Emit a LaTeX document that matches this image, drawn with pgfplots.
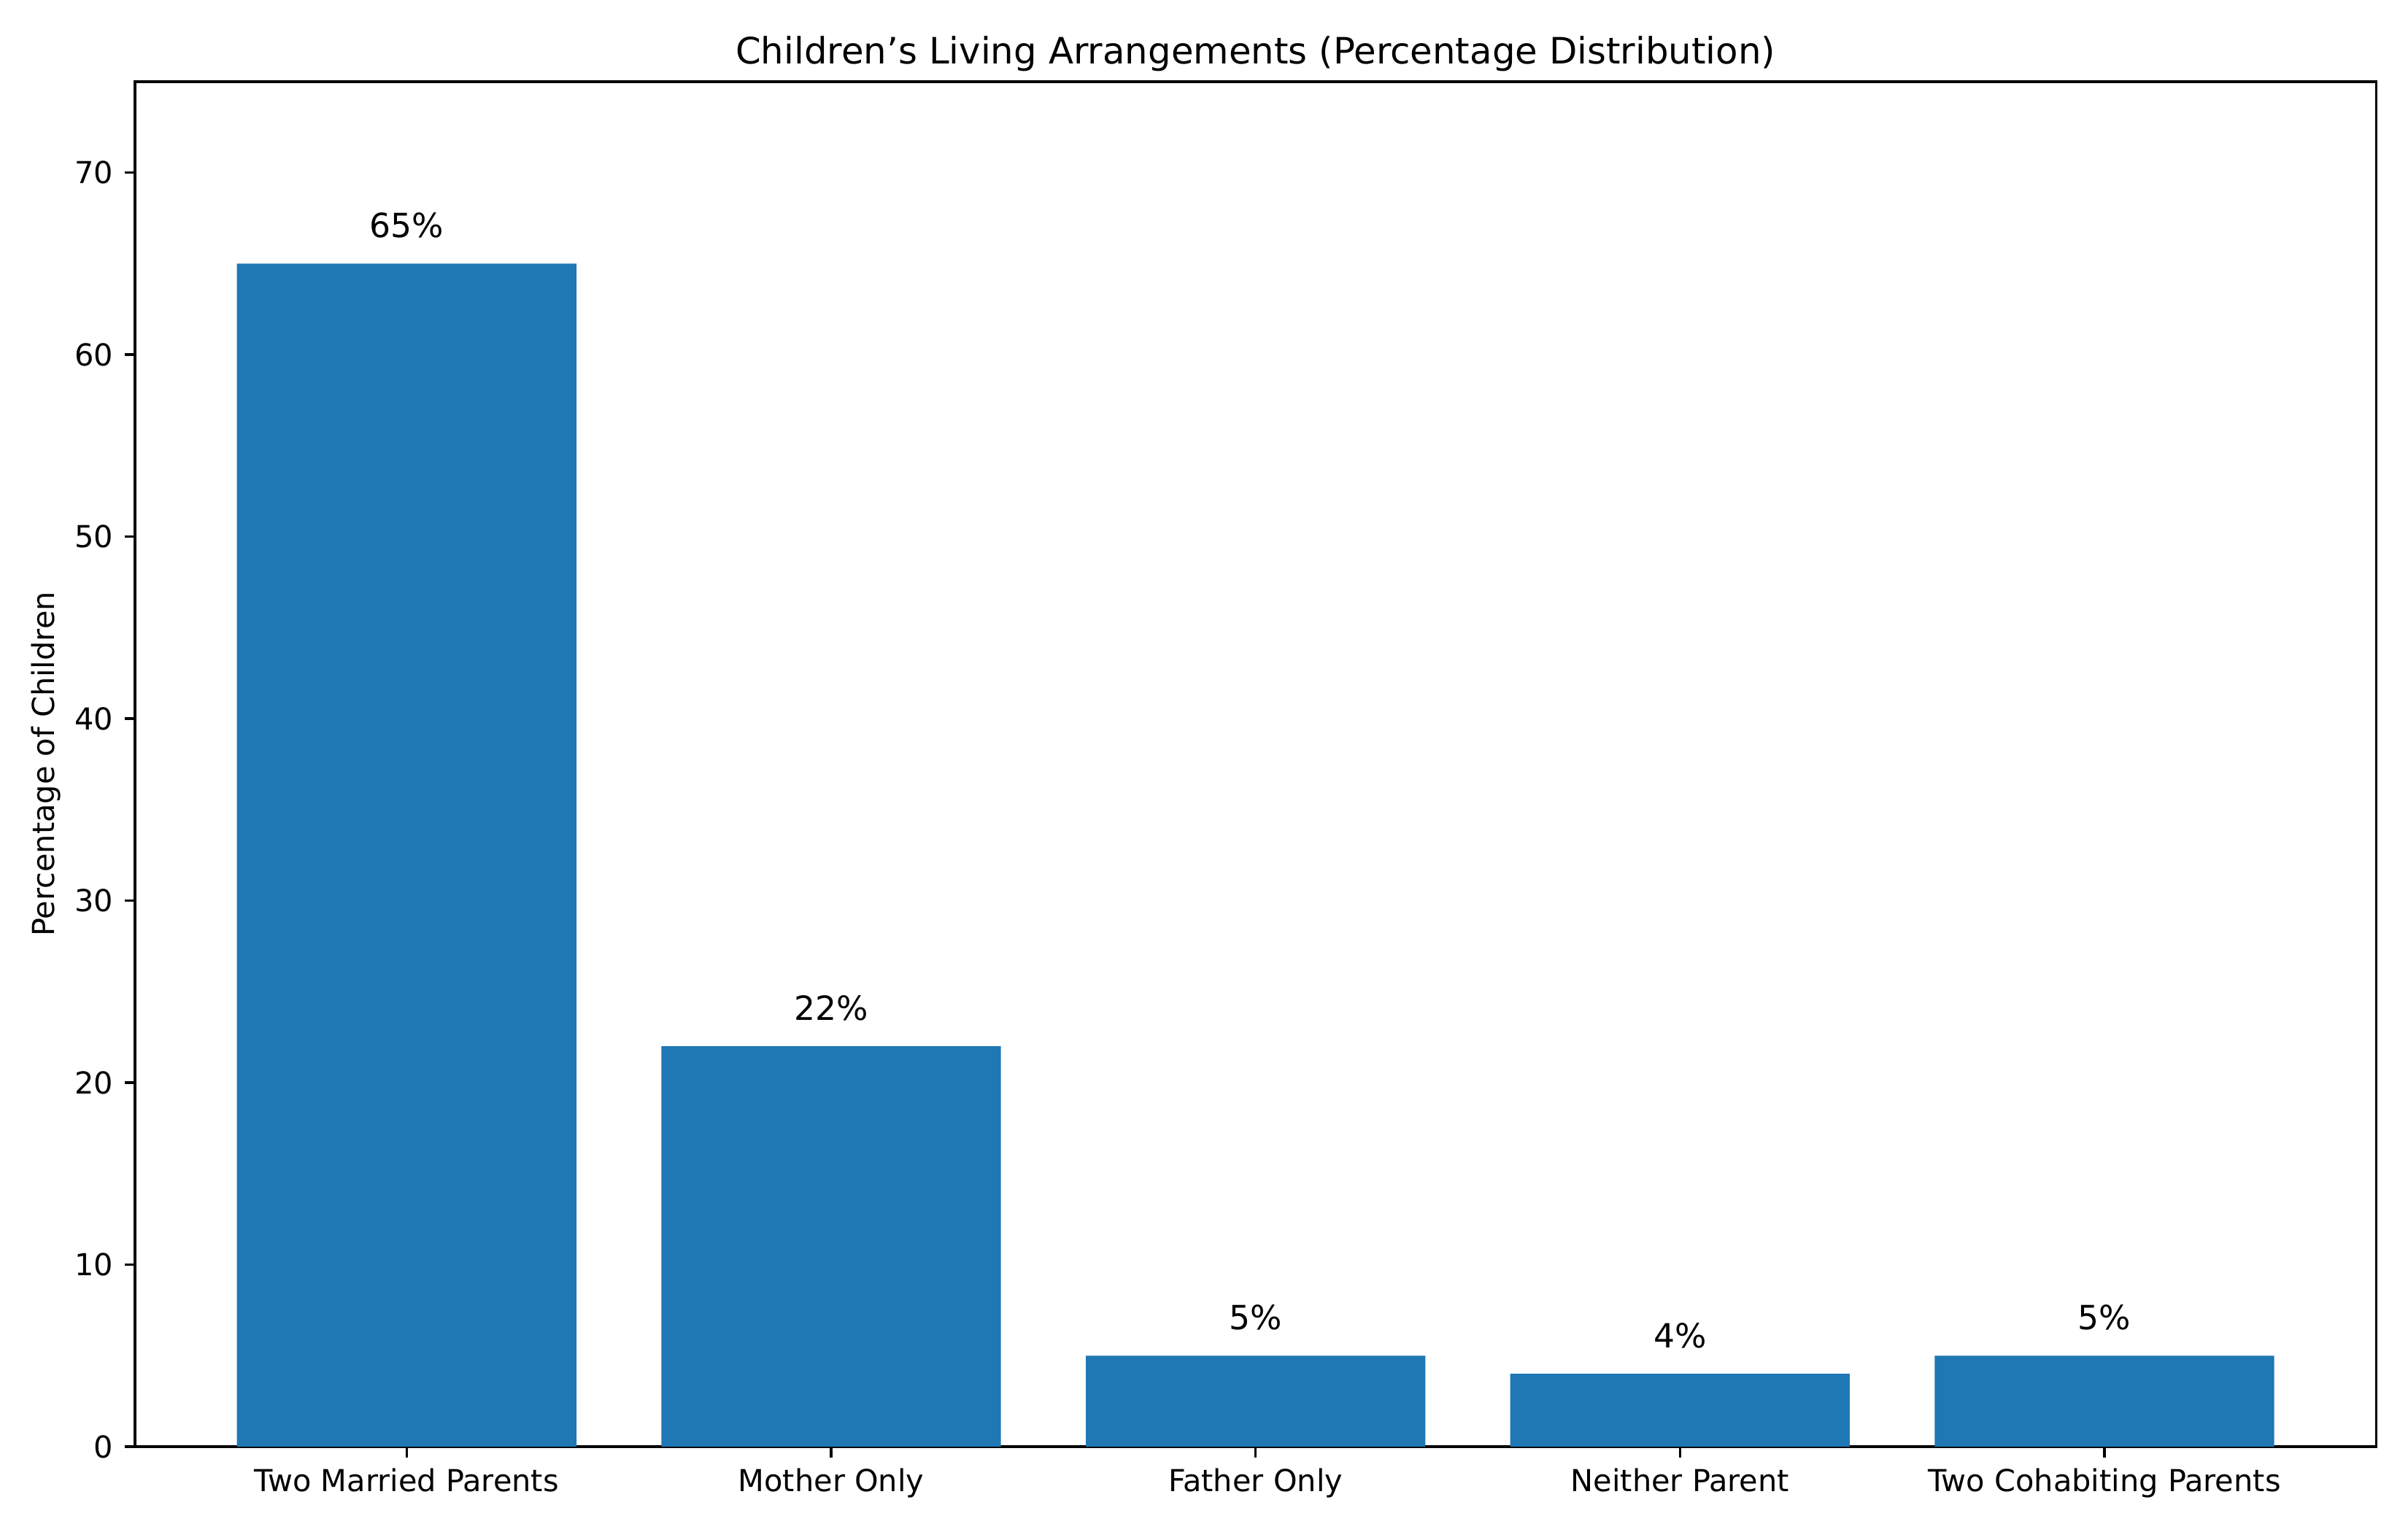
\documentclass[border=0pt]{standalone}
\usepackage{pgfplots}
\pgfplotsset{compat=1.18}
\usepackage{fontspec}
\setmainfont{DejaVu Sans}
\definecolor{barblue}{HTML}{1F77B4}
\begin{document}
\begin{tikzpicture}
    \path[use as bounding box] (0,0) rectangle (11in,7in);
    \begin{axis}[
        at                = {(0.617in,0.39in)},
        anchor            = south west,
        scale only axis,
        width             = 10.237in,
        height            = 6.237in,
        xmin              = -0.64,
        xmax              = 4.64,
        ymin              = 0,
        ymax              = 75,
        xtick             = {0,1,2,3,4},
        xticklabels       = {Two Married Parents, Mother Only, Father Only,
                             Neither Parent, Two Cohabiting Parents},
        ytick             = {0,10,...,70},
        tick align        = outside,
        tick pos          = left,
        major tick length = 3.5pt,
        every tick/.style = {black, line width=0.8pt},
        axis line style   = {line width=0.8pt},
        /pgf/number format/assume math mode = true,
        tick label style  = {font=\fontsize{10}{12}\selectfont},
        xticklabel style  = {inner sep=0pt, anchor=north, yshift=-3.5pt},
        yticklabel style  = {inner sep=0pt, anchor=east, xshift=-3.5pt},
        ylabel            = {Percentage of Children},
        every axis y label/.style = {at={(axis description cs:-0.0397,0.5)},
                             anchor=center, rotate=90,
                             font=\fontsize{10}{12}\selectfont},
        title             = {Children’s Living Arrangements (Percentage Distribution)},
        every axis title shift = 0pt,
        title style       = {at={(axis description cs:0.5,1)}, anchor=base,
                             yshift=6pt, inner sep=0pt,
                             font=\fontsize{12}{14}\selectfont},
        nodes near coords = {\pgfmathprintnumber{\pgfplotspointmeta}\%},
        every node near coord/.append style = {anchor=base, inner sep=0pt,
                             yshift=8.6pt, black,
                             font=\fontsize{11}{13}\selectfont},
    ]
        \addplot[
            ybar,
            bar width = 0.8,
            fill      = barblue,
            draw      = none]
            coordinates {
                (0,65)
                (1,22)
                (2,5)
                (3,4)
                (4,5)
            };
    \end{axis}
\end{tikzpicture}
\end{document}
